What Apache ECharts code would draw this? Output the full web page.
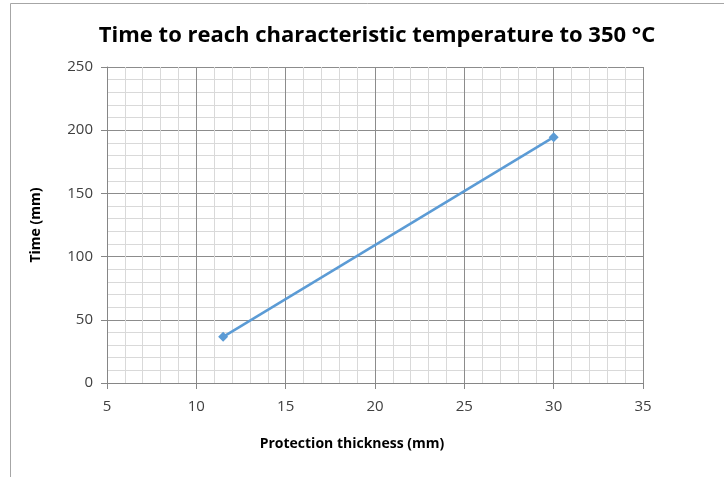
<!DOCTYPE html>
<html><head><meta charset="utf-8">
<script src="https://cdn.jsdelivr.net/npm/echarts@6/dist/echarts.min.js"></script>
<style>html,body{margin:0;padding:0;background:#fff}#c{width:724px;height:477px}</style>
</head><body><div id="c"></div>
<script>
const thickness = [11.5, 30];
const times = [36.5, 194.5];
const xTicks = [5, 10, 15, 20, 25, 30, 35];
const yTicks = [0, 50, 100, 150, 200, 250];

const chart = echarts.init(document.getElementById('c'));
const font = '"Open Sans", "Liberation Sans", sans-serif';
chart.setOption({
  animation: false,
  backgroundColor: '#fff',
  graphic: [
    { type: 'polyline', shape: { points: [[10.5, 477], [10.5, 3.5], [724, 3.5]] }, style: { stroke: '#a6a6a6', lineWidth: 1, fill: null } }
  ],
  title: {
    text: 'Time to reach characteristic temperature to 350 °C',
    left: 372, top: 20, textAlign: 'center',
    textStyle: { fontFamily: font, fontSize: 22, fontWeight: 'bold', color: '#000' }
  },
  grid: { left: 107, right: 81, top: 67, bottom: 94 },
  xAxis: {
    type: 'value', min: xTicks[0], max: xTicks[xTicks.length - 1], interval: 5,
    name: 'Protection thickness (mm)', nameLocation: 'middle', nameGap: 54,
    nameTextStyle: { fontFamily: font, fontSize: 14, fontWeight: 'bold', color: '#000', padding: [0, 46, 0, 0] },
    axisLine: { show: true, lineStyle: { color: '#868686', width: 1 } },
    axisTick: { show: true, length: 6, lineStyle: { color: '#868686' } },
    minorTick: { show: false, splitNumber: 5 },
    axisLabel: { fontFamily: font, fontSize: 15, color: '#404040', margin: 16 },
    splitLine: { show: true, lineStyle: { color: '#8c8c8c', width: 1 } },
    minorSplitLine: { show: true, lineStyle: { color: '#d9d9d9', width: 1 } }
  },
  yAxis: {
    type: 'value', min: yTicks[0], max: yTicks[yTicks.length - 1], interval: 50,
    name: 'Time (mm)', nameLocation: 'middle', nameGap: 64,
    nameTextStyle: { fontFamily: font, fontSize: 14, fontWeight: 'bold', color: '#000' },
    axisLine: { show: true, lineStyle: { color: '#868686', width: 1 } },
    axisTick: { show: true, length: 6, lineStyle: { color: '#868686' } },
    minorTick: { show: false, splitNumber: 5 },
    axisLabel: { fontFamily: font, fontSize: 15, color: '#404040', margin: 14 },
    splitLine: { show: true, lineStyle: { color: '#8c8c8c', width: 1 } },
    minorSplitLine: { show: true, lineStyle: { color: '#d9d9d9', width: 1 } }
  },
  series: [{
    type: 'line',
    data: thickness.map((x, i) => [x, times[i]]),
    symbol: 'diamond', symbolSize: 10,
    lineStyle: { color: '#5B9BD5', width: 2.5 },
    itemStyle: { color: '#5B9BD5' }
  }]
});
</script></body></html>
